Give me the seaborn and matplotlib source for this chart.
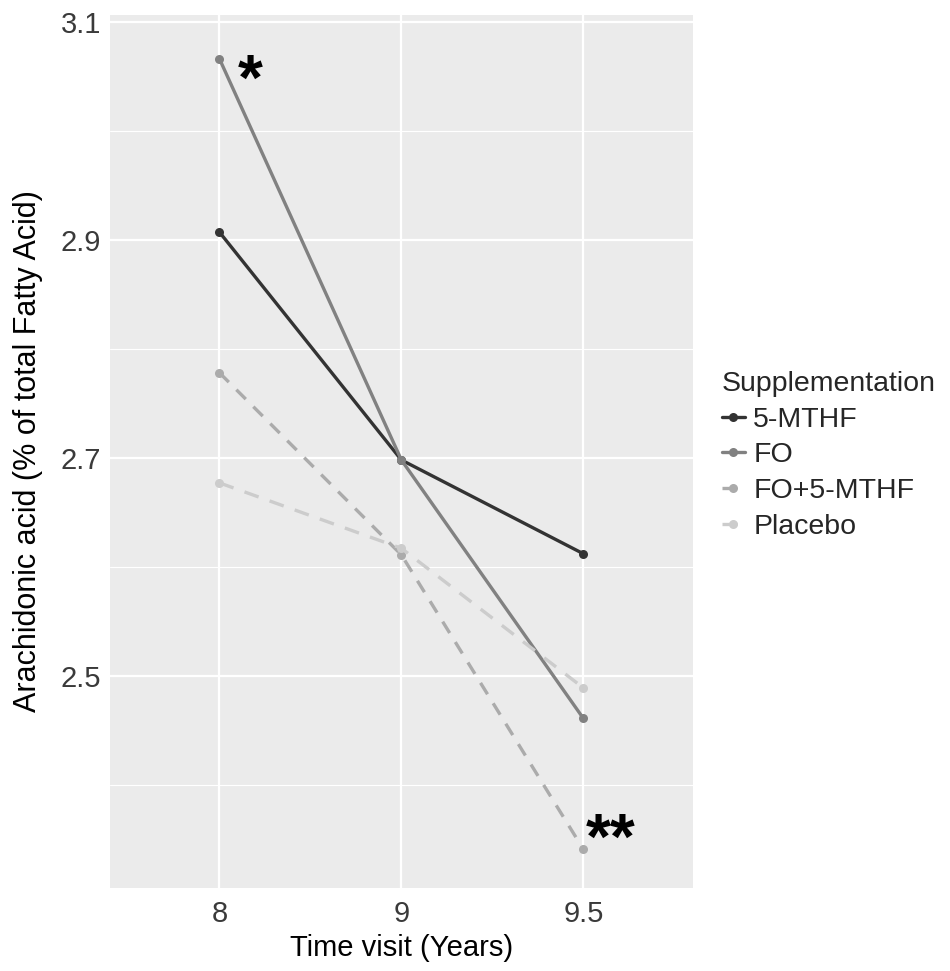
import numpy as np
import matplotlib.pyplot as plt
import matplotlib.transforms as mtransforms
import pandas as pd
import seaborn as sns

# data
visits = ['8', '9', '9.5']
groups = ['5-MTHF', 'FO', 'FO+5-MTHF', 'Placebo']
mthf = [2.907, 2.698, 2.612]
fo = [3.066, 2.698, 2.461]
fo_mthf = [2.778, 2.611, 2.341]
placebo = [2.677, 2.617, 2.489]

df = pd.DataFrame({
    'visit': visits * 4,
    'pos': list(range(len(visits))) * 4,
    'group': np.repeat(groups, len(visits)),
    'value': mthf + fo + fo_mthf + placebo,
})

palette = dict(zip(groups, ['#333333', '#818181', '#ABABAB', '#CCCCCC']))
dashes = dict(zip(groups, ['', '', (4, 3.2), (4.5, 3.5)]))
markers = dict(zip(groups, ['o'] * 4))

sns.set_theme(style='darkgrid', rc={'axes.facecolor': '#EBEBEB', 'grid.color': 'white'})
plt.rcParams['font.family'] = ['Liberation Sans', 'DejaVu Sans']

fig = plt.figure(figsize=(9.5, 9.71), dpi=100)
ax = fig.add_axes([0.116, 0.0855, 0.613, 0.899])

sns.lineplot(data=df, x='pos', y='value', hue='group', style='group',
             palette=palette, dashes=dashes, markers=markers, markersize=6.5,
             markeredgewidth=0, linewidth=2.4, ax=ax)

ax.set_xlim(-0.6, 2.6)
ax.set_ylim(2.3055, 3.106)
ax.set_xticks(range(len(visits)))
ax.set_xticklabels(visits)
ax.set_yticks([2.5, 2.7, 2.9, 3.1])
ax.set_yticks([2.4, 2.6, 2.8, 3.0], minor=True)
ax.grid(which='major', color='white', linewidth=1.6)
ax.grid(which='minor', axis='y', color='white', linewidth=0.8)
for s in ax.spines.values():
    s.set_visible(False)
ax.tick_params(axis='both', which='major', length=4, width=1, color='#333333',
               labelsize=21, labelcolor='#3a3a3a', pad=2.5)
ax.tick_params(axis='x', which='major', pad=5)
ax.tick_params(axis='y', which='minor', length=0)
ax.set_xlabel('Time visit (Years)', fontsize=21, color='black', labelpad=4)
ax.set_ylabel('Arachidonic acid (% of total Fatty Acid)', fontsize=22, color='black', labelpad=13)

# significance marks, baseline shifted so the glyph is centred on the point
shift = mtransforms.offset_copy(ax.transData, fig=fig, x=0, y=-30, units='dots')
ax.text(0.17, 3.056, '*', fontsize=46, fontweight='bold', color='black',
        ha='center', va='baseline', transform=shift)
ax.text(2.15, 2.36, '**', fontsize=46, fontweight='bold', color='black',
        ha='center', va='baseline', transform=shift)

handles, labels = ax.get_legend_handles_labels()
ax.get_legend().remove()
leg = fig.legend(handles, labels, title='Supplementation', loc='center left',
                 bbox_to_anchor=(0.760, 0.531), frameon=False, fontsize=20.5,
                 title_fontsize=20.5, handlelength=0.8, handletextpad=0.3,
                 labelspacing=0.34, borderpad=0, borderaxespad=0)
leg._legend_box.align = 'left'

fig.savefig('out.png', dpi=100)
